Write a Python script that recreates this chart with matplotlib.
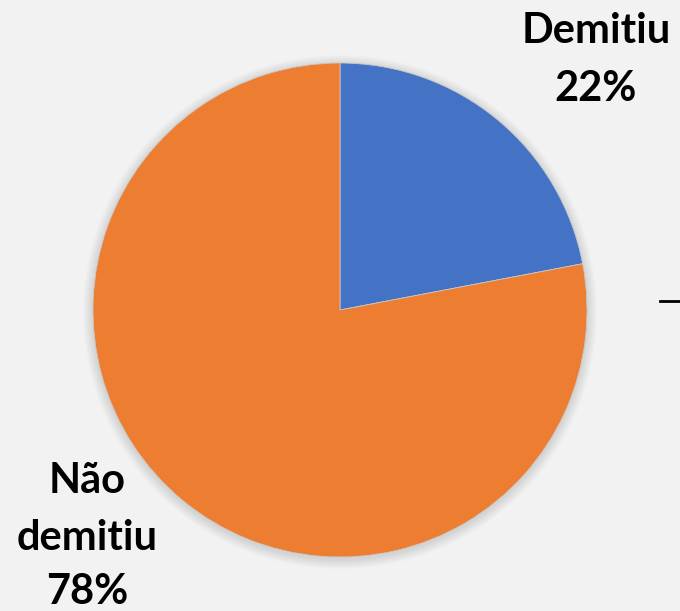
import numpy as np
import matplotlib.pyplot as plt
from matplotlib.patches import Circle

labels = ['Demitiu', 'Não demitiu']
shares = [22, 78]
colors = ['#4472C4', '#ED7D31']

fig = plt.figure(figsize=(6.8, 6.11), dpi=100, facecolor='#F2F2F2')
ax = fig.add_axes([0, 0, 1, 1])
ax.set_facecolor('#F2F2F2')

cx, cy, r = 340, 301, 247

# soft shadow round the pie
for k in range(10, 0, -1):
    ax.add_patch(Circle((cx, cy - 2), r + k, color='black', alpha=0.012, lw=0, zorder=0))

ax.pie(shares, colors=colors, startangle=90, counterclock=False,
       center=(cx, cy), radius=r, frame=False,
       wedgeprops=dict(linewidth=0.6, edgecolor='#C8C8C8'))

ax.set_xlim(0, 680)
ax.set_ylim(0, 611)
ax.set_aspect('auto')
ax.axis('off')

font = dict(family=['Lato', 'DejaVu Sans'], fontweight='bold', fontsize=30, color='black')
ax.text(596, 611 - 43, labels[0], ha='center', va='baseline', **font)
ax.text(596, 611 - 101, f'{shares[0]}%', ha='center', va='baseline', **font)
ax.text(87, 611 - 493, 'Não', ha='center', va='baseline', **font)
ax.text(87, 611 - 550, 'demitiu', ha='center', va='baseline', **font)
ax.text(87, 611 - 604, f'{shares[1]}%', ha='center', va='baseline', **font)

ax.plot([660, 680], [310, 310], color='black', lw=2)

fig.savefig('out.png', dpi=100, facecolor='#F2F2F2')
